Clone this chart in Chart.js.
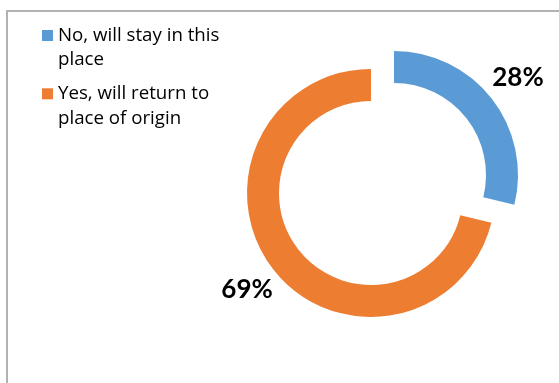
<!DOCTYPE html>
<html>
<head>
<meta charset="utf-8">
<script src="https://cdn.jsdelivr.net/npm/chart.js@4.4.1/dist/chart.umd.min.js"></script>
<style>
  html, body { margin: 0; padding: 0; background: #ffffff; overflow: hidden; }
  #chart { display: block; }
</style>
</head>
<body>
<canvas id="chart" width="559" height="383"></canvas>
<script>
// Survey answers: will the respondent go back to their place of origin?
const categories = ['No, will stay in this place', 'Yes, will return to place of origin'];
const shares = [28, 69];
const sliceColors = ['#5B9BD5', '#ED7D31'];

// Pulls every slice out from the centre along its own bisector.
const explodeSlices = {
  id: 'explodeSlices',
  afterDatasetUpdate(chart, args, opts) {
    const meta = chart.getDatasetMeta(args.index);
    meta.data.forEach(arc => {
      const mid = (arc.startAngle + arc.endAngle) / 2;
      arc.baseX = arc.x;
      arc.baseY = arc.y;
      arc.x = arc.baseX + Math.cos(mid) * opts.distance;
      arc.y = arc.baseY + Math.sin(mid) * opts.distance;
    });
  }
};

// Percentage labels outside the ring, on each slice's bisector.
const sliceLabels = {
  id: 'sliceLabels',
  afterDatasetsDraw(chart, args, opts) {
    const ctx = chart.ctx;
    const meta = chart.getDatasetMeta(0);
    const values = chart.data.datasets[0].data;
    ctx.save();
    ctx.font = `bold ${opts.size}px ${opts.family}`;
    ctx.fillStyle = opts.color;
    ctx.textAlign = 'center';
    ctx.textBaseline = 'middle';
    meta.data.forEach((arc, i) => {
      const mid = (arc.startAngle + arc.endAngle) / 2;
      const r = arc.outerRadius + opts.gap;
      const x = arc.baseX + Math.cos(mid) * r;
      const y = arc.baseY + Math.sin(mid) * r;
      ctx.fillText(values[i] + '%', x, y);
    });
    ctx.restore();
  }
};

// Legend in the upper-left corner with wrapped entries.
const wrappedLegend = {
  id: 'wrappedLegend',
  afterDraw(chart, args, o) {
    const ctx = chart.ctx;
    const colors = chart.data.datasets[0].backgroundColor;
    ctx.save();
    ctx.font = `${o.size}px ${o.family}`;
    ctx.textBaseline = 'alphabetic';
    ctx.textAlign = 'left';
    let baseline = o.top;
    chart.data.labels.forEach((label, i) => {
      const lines = [];
      let line = '';
      label.split(' ').forEach(word => {
        const test = line ? line + ' ' + word : word;
        if (line && ctx.measureText(test).width > o.maxWidth) {
          lines.push(line);
          line = word;
        } else {
          line = test;
        }
      });
      if (line) lines.push(line);
      ctx.fillStyle = colors[i];
      ctx.fillRect(o.boxLeft, baseline - o.box, o.box, o.box);
      ctx.fillStyle = o.color;
      lines.forEach((ln, k) => ctx.fillText(ln, o.textLeft, baseline + k * o.lineHeight));
      baseline += (lines.length - 1) * o.lineHeight + o.itemGap;
    });
    ctx.restore();
  }
};

// Thin grey frame along the top and left edges.
const frame = {
  id: 'frame',
  beforeDraw(chart, args, o) {
    const ctx = chart.ctx;
    ctx.save();
    ctx.strokeStyle = o.color;
    ctx.lineWidth = o.width;
    ctx.beginPath();
    ctx.moveTo(o.left, chart.height);
    ctx.lineTo(o.left, o.top);
    ctx.lineTo(chart.width, o.top);
    ctx.stroke();
    ctx.restore();
  }
};

new Chart(document.getElementById('chart'), {
  type: 'doughnut',
  data: {
    labels: categories,
    datasets: [{
      data: shares,
      backgroundColor: sliceColors,
      borderWidth: 0,
      hoverOffset: 0
    }]
  },
  options: {
    responsive: false,
    animation: false,
    radius: 124,
    cutout: '74.2%',
    layout: { padding: { left: 220, right: 14, top: 20, bottom: 35 } },
    plugins: {
      legend: { display: false },
      tooltip: { enabled: false },
      explodeSlices: { distance: 14.6 },
      sliceLabels: { size: 26, family: 'Lato, "Open Sans", sans-serif', color: '#000000', gap: 48 },
      wrappedLegend: {
        size: 18.7, family: '"Open Sans", Lato, sans-serif', color: '#000000',
        top: 41, boxLeft: 42, box: 11, textLeft: 58, lineHeight: 24.3, itemGap: 34, maxWidth: 180
      },
      frame: { color: '#B2B2B2', width: 2, left: 7, top: 11 }
    }
  },
  plugins: [frame, explodeSlices, sliceLabels, wrappedLegend]
});
</script>
</body>
</html>
